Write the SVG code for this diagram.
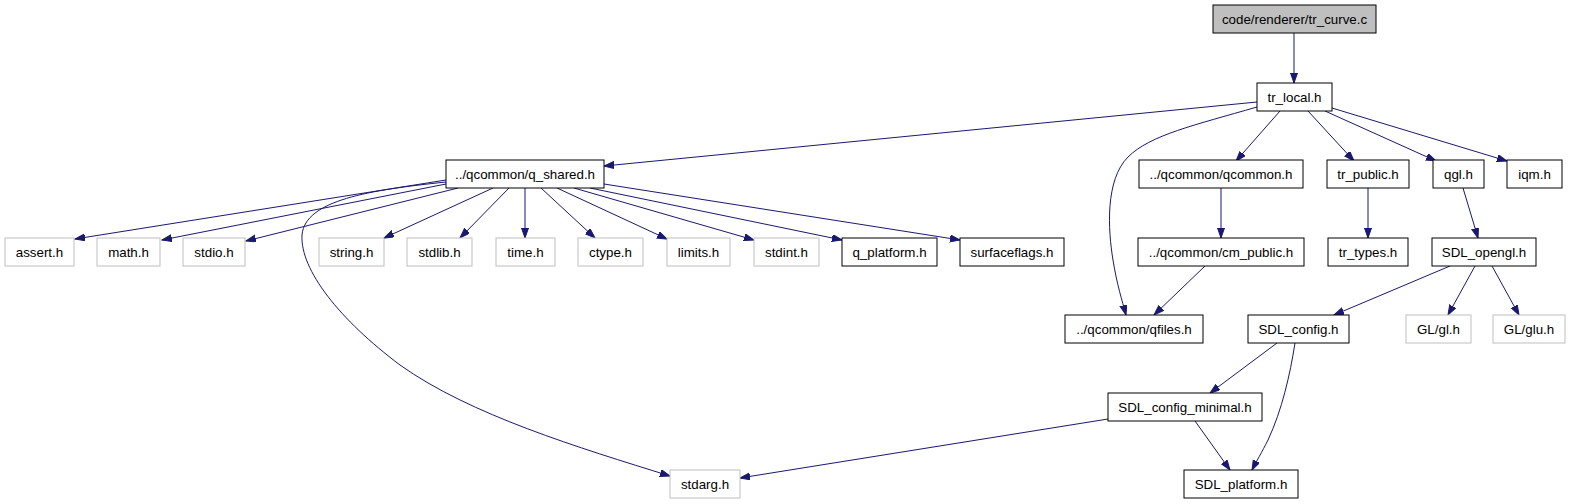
<svg xmlns="http://www.w3.org/2000/svg" width="1569" height="504" viewBox="0 0 1569 504">
<style>
.n rect{fill:#fff;stroke:#000;stroke-width:1}
.g rect{fill:#fff;stroke:#bfbfbf;stroke-width:1}
.top rect{fill:#bfbfbf;stroke:#000;stroke-width:1}
text{font-family:"Liberation Sans",Arial,Helvetica,sans-serif;font-size:13.33px;fill:#000;text-anchor:middle}
.e path{fill:none;stroke:#191970;stroke-width:1;marker-end:url(#ah)}
</style>
<defs>
<marker id="ah" markerUnits="userSpaceOnUse" markerWidth="11" markerHeight="8" refX="10" refY="3.5" orient="auto">
<path d="M0,0 L10,3.5 L0,7 z" fill="#191970" stroke="#191970"/>
</marker>
</defs>
<rect width="1569" height="504" fill="#fff"/>
<g class="e" id="connectors">
<path d="M1294,33 L1294,83"/>
<path d="M1257,102 L604,166"/>
<path d="M1257,107 C1195,125 1150,135 1128,157 C1105,180 1108,230 1113,260 C1117,285 1122,300 1126,315"/>
<path d="M1280,111 L1236,161"/>
<path d="M1308,111 L1354,161"/>
<path d="M1325,111 L1436,161"/>
<path d="M1332,108 L1507,161"/>
<path d="M1221,188 L1221,238"/>
<path d="M1205,266 L1154,315"/>
<path d="M1368,188 L1368,238"/>
<path d="M1463,188 L1478,238"/>
<path d="M1450,266 L1334,315"/>
<path d="M1475,266 L1448,315"/>
<path d="M1492,266 L1519,315"/>
<path d="M1277,343 L1210,393"/>
<path d="M1295,343 C1290,375 1282,410 1268,440 C1262,452 1256,462 1252,470"/>
<path d="M1195,421 L1230,470"/>
<path d="M1108,419 L740,478"/>
<path d="M446,182 C370,190 305,200 302,235 C300,270 340,320 400,365 C470,415 580,448 670,476"/>
<path d="M446,180 L75,239"/>
<path d="M446,184 L162,240"/>
<path d="M458,188 L246,241"/>
<path d="M493,188 L384,238"/>
<path d="M509,188 L460,238"/>
<path d="M525,188 L525,238"/>
<path d="M541,188 L595,238"/>
<path d="M557,188 L667,239"/>
<path d="M574,188 L754,240"/>
<path d="M590,188 L842,240"/>
<path d="M604,184 L960,240"/>
</g>
<g id="tr_curve_c" class="top"><rect x="1213" y="5" width="163" height="28"/><text x="1294.5" y="23.5">code/renderer/tr_curve.c</text></g>
<g id="tr_local_h" class="n"><rect x="1257" y="83" width="75" height="28"/><text x="1294.5" y="101.5">tr_local.h</text></g>
<g id="q_shared_h" class="n"><rect x="446" y="160" width="158" height="28"/><text x="525" y="178.5">../qcommon/q_shared.h</text></g>
<g id="qcommon_h" class="n"><rect x="1139" y="160" width="164" height="28"/><text x="1221" y="178.5">../qcommon/qcommon.h</text></g>
<g id="tr_public_h" class="n"><rect x="1327" y="160" width="82" height="28"/><text x="1368" y="178.5">tr_public.h</text></g>
<g id="qgl_h" class="n"><rect x="1433" y="160" width="51" height="28"/><text x="1458.5" y="178.5">qgl.h</text></g>
<g id="iqm_h" class="n"><rect x="1507" y="160" width="55" height="28"/><text x="1534.5" y="178.5">iqm.h</text></g>
<g id="assert_h" class="g"><rect x="5" y="238" width="69" height="28"/><text x="39.5" y="256.5">assert.h</text></g>
<g id="math_h" class="g"><rect x="97" y="238" width="63" height="28"/><text x="128.5" y="256.5">math.h</text></g>
<g id="stdio_h" class="g"><rect x="183" y="238" width="62" height="28"/><text x="214" y="256.5">stdio.h</text></g>
<g id="string_h" class="g"><rect x="319" y="238" width="65" height="28"/><text x="351.5" y="256.5">string.h</text></g>
<g id="stdlib_h" class="g"><rect x="407" y="238" width="65" height="28"/><text x="439.5" y="256.5">stdlib.h</text></g>
<g id="time_h" class="g"><rect x="496" y="238" width="59" height="28"/><text x="525.5" y="256.5">time.h</text></g>
<g id="ctype_h" class="g"><rect x="578" y="238" width="65" height="28"/><text x="610.5" y="256.5">ctype.h</text></g>
<g id="limits_h" class="g"><rect x="667" y="238" width="63" height="28"/><text x="698.5" y="256.5">limits.h</text></g>
<g id="stdint_h" class="g"><rect x="754" y="238" width="65" height="28"/><text x="786.5" y="256.5">stdint.h</text></g>
<g id="q_platform_h" class="n"><rect x="842" y="238" width="95" height="28"/><text x="889.5" y="256.5">q_platform.h</text></g>
<g id="surfaceflags_h" class="n"><rect x="960" y="238" width="104" height="28"/><text x="1012" y="256.5">surfaceflags.h</text></g>
<g id="cm_public_h" class="n"><rect x="1138" y="238" width="166" height="28"/><text x="1221" y="256.5">../qcommon/cm_public.h</text></g>
<g id="tr_types_h" class="n"><rect x="1328" y="238" width="80" height="28"/><text x="1368" y="256.5">tr_types.h</text></g>
<g id="SDL_opengl_h" class="n"><rect x="1432" y="238" width="104" height="28"/><text x="1484" y="256.5">SDL_opengl.h</text></g>
<g id="qfiles_h" class="n"><rect x="1065" y="315" width="138" height="28"/><text x="1134" y="333.5">../qcommon/qfiles.h</text></g>
<g id="SDL_config_h" class="n"><rect x="1248" y="315" width="101" height="28"/><text x="1298.5" y="333.5">SDL_config.h</text></g>
<g id="GL_gl_h" class="g"><rect x="1406" y="315" width="65" height="28"/><text x="1438.5" y="333.5">GL/gl.h</text></g>
<g id="GL_glu_h" class="g"><rect x="1493" y="315" width="72" height="28"/><text x="1529" y="333.5">GL/glu.h</text></g>
<g id="SDL_config_minimal_h" class="n"><rect x="1108" y="393" width="154" height="28"/><text x="1185" y="411.5">SDL_config_minimal.h</text></g>
<g id="stdarg_h" class="g"><rect x="670" y="470" width="70" height="28"/><text x="705" y="488.5">stdarg.h</text></g>
<g id="SDL_platform_h" class="n"><rect x="1184" y="470" width="114" height="28"/><text x="1241" y="488.5">SDL_platform.h</text></g>
</svg>
